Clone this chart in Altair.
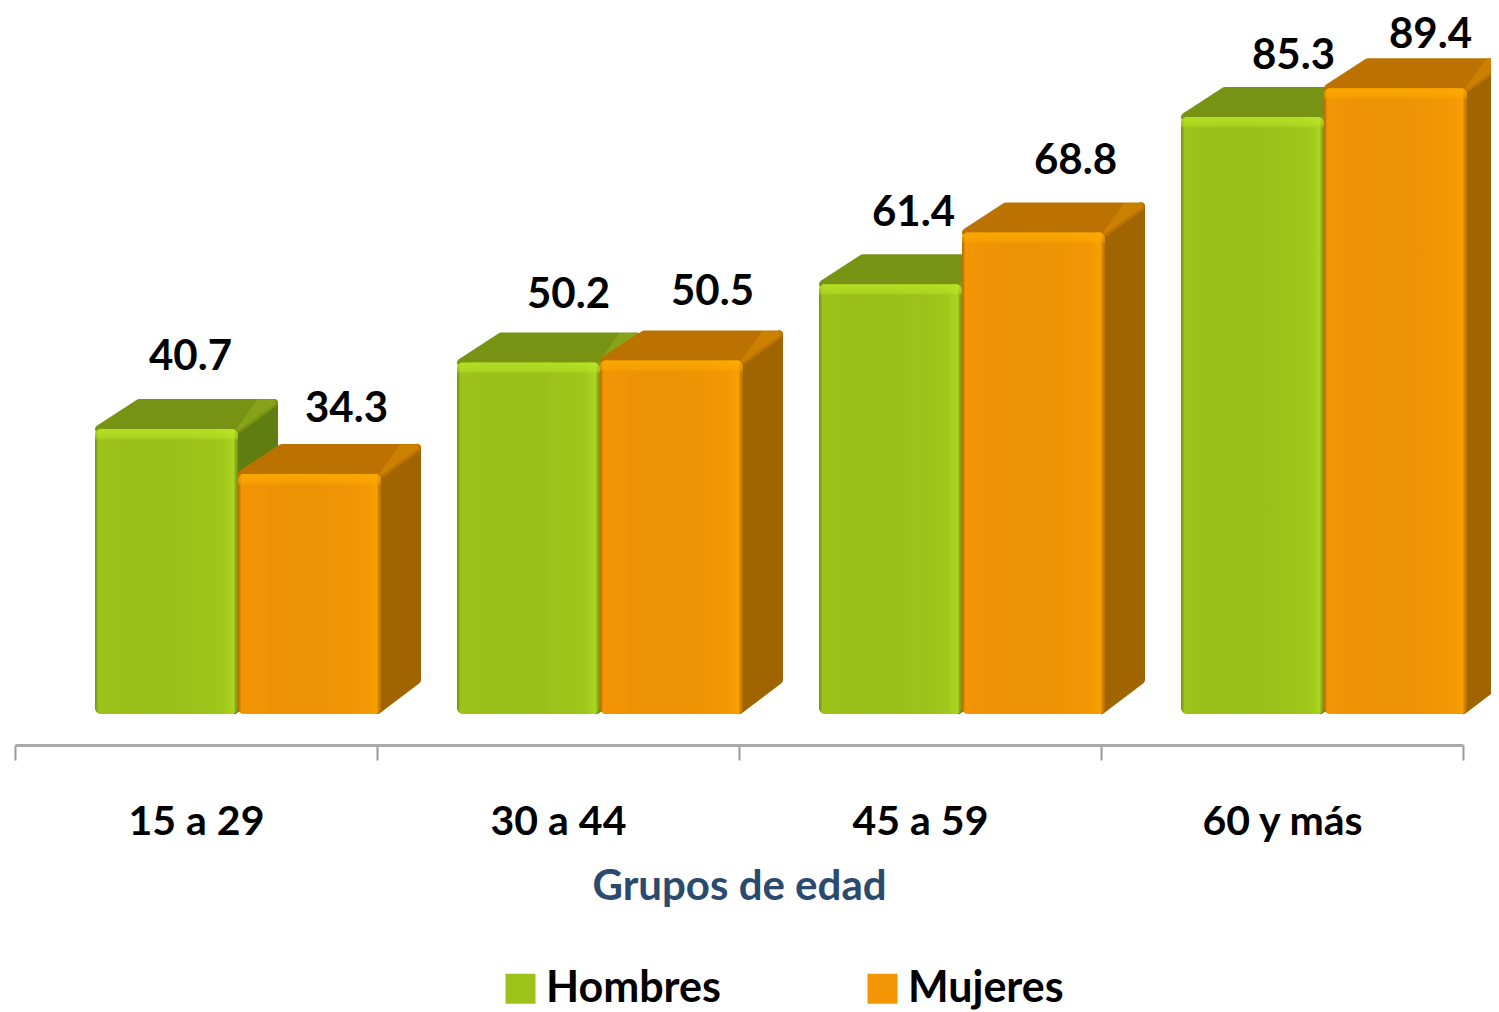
import altair as alt
import pandas as pd

categories = ["15 a 29", "30 a 44", "45 a 59", "60 y más"]
hombres = [40.7, 50.2, 61.4, 85.3]
mujeres = [34.3, 50.5, 68.8, 89.4]
series_names = ["Hombres", "Mujeres"]

# Layout (pixels), kept apart from the values
BAND_PX, UNIT_PX = 362.0, 7.0
DEPTH_X, DEPTH_Y = 40 / BAND_PX, 30 / UNIT_PX
BAR_W = 143 / BAND_PX
START = {"Hombres": 80 / BAND_PX, "Mujeres": 223 / BAND_PX}
INX, INY = 4 / BAND_PX, 4 / UNIT_PX
LABEL_FONT = "Lato"
FRONT = {"Hombres": "#9dc31a", "Mujeres": "#f39504"}
TOPC = {"Hombres": "#789314", "Mujeres": "#bb7200"}
TOPL = {"Hombres": "#88a31a", "Mujeres": "#cc8000"}
SIDE = {"Hombres": "#5f7d10", "Mujeres": "#a06400"}
GLOW = {"Hombres": "190,235,40", "Mujeres": "255,175,0"}
label_dx = {"Hombres": [4, 20, 3, 21], "Mujeres": [17, 21, 22, 15]}
label_dy = {"Hombres": [72, 68, 71, 61], "Mujeres": [65, 69, 71, 53]}

xs = alt.Scale(domain=[0, 4], nice=False, zero=False)
ys = alt.Scale(domain=[-31 / UNIT_PX, 706 / UNIT_PX], nice=False, zero=False)
X = lambda f: alt.X(f, type="quantitative", scale=xs, axis=None)
Y = lambda f: alt.Y(f, type="quantitative", scale=ys, axis=None)

vals = {"Hombres": hombres, "Mujeres": mujeres}
layers = []

# Invisible band layer: it carries the real category axis
axis_df = pd.DataFrame({"cat": categories})
layers.append(
    alt.Chart(axis_df).mark_rule(opacity=0).encode(
        x=alt.X("cat:N", sort=categories, title="Grupos de edad",
                scale=alt.Scale(domain=categories, paddingInner=0, paddingOuter=0),
                axis=alt.Axis(tickBand="extent", labelAngle=0, labelFont=LABEL_FONT,
                              labelFontWeight="bold", labelFontSize=41, labelColor="#000000",
                              labelPadding=42, tickSize=15, tickWidth=2, tickColor="#999999",
                              domainColor="#aaaaaa", domainWidth=3, grid=False,
                              titleFont=LABEL_FONT, titleFontWeight="bold", titleFontSize=42,
                              titleColor="#2a4a6e", titlePadding=24))
    )
)

for name in series_names:
    side_rows, top_rows, top_hi, front_rows, text_rows = [], [], [], [], []
    for i, (c, v) in enumerate(zip(categories, vals[name])):
        xl = i + START[name]
        xr = xl + BAR_W
        side_rows += [dict(k=c, x=xr - 0.01, y=v, y2=INY),
                      dict(k=c, x=xr + DEPTH_X - INX, y=v + DEPTH_Y - INY, y2=DEPTH_Y + INY)]
        top_rows += [dict(k=c, x=xl + INX, y=v, y2=v),
                     dict(k=c, x=xl + DEPTH_X + INX, y=v + DEPTH_Y - INY, y2=v),
                     dict(k=c, x=xr, y=v + DEPTH_Y - INY, y2=v),
                     dict(k=c, x=xr + DEPTH_X - INX, y=v + DEPTH_Y - INY, y2=v + DEPTH_Y - INY)]
        top_hi += [dict(k=c, x=xr, y=v, y2=v),
                   dict(k=c, x=xr + DEPTH_X * 0.5, y=v + DEPTH_Y - INY / 2, y2=v + DEPTH_Y / 2),
                   dict(k=c, x=xr + DEPTH_X - INX, y=v + DEPTH_Y - INY / 2, y2=v + DEPTH_Y - INY)]
        front_rows.append(dict(k=c, s=name, x=xl, x2=xr, y=v, y2=0, ytop=v - 1.6))
        text_rows.append(dict(t=f"{v:.1f}",
                              x=xl + (BAR_W + DEPTH_X) / 2 + label_dx[name][i] / BAND_PX,
                              y=v + label_dy[name][i] / UNIT_PX))

    for rows, col, sw in ((side_rows, SIDE[name], 8), (top_rows, TOPC[name], 8),
                          (top_hi, TOPL[name], 3)):
        layers.append(
            alt.Chart(pd.DataFrame(rows)).mark_area(
                color=col, orient="vertical", stroke=col, strokeWidth=sw, strokeJoin="round"
            ).encode(x=X("x"), y=Y("y"), y2="y2", detail="k:N")
        )

    fdf = pd.DataFrame(front_rows)
    glow = GLOW[name]
    layers.append(
        alt.Chart(fdf).mark_rect(cornerRadius=6).encode(
            x=X("x"), x2="x2", y=Y("y"), y2="y2",
            color=alt.Color("s:N",
                            scale=alt.Scale(domain=series_names,
                                            range=[FRONT[n] for n in series_names]),
                            legend=alt.Legend(title=None, orient="none", direction="horizontal",
                                              columns=2, legendX=484, legendY=959,
                                              symbolType="square", symbolSize=900,
                                              symbolStrokeWidth=0, labelFont=LABEL_FONT,
                                              labelFontWeight="bold", labelFontSize=43,
                                              labelColor="#000000", labelOffset=4,
                                              labelLimit=400, columnPadding=140, rowPadding=0)))
    )
    layers.append(
        alt.Chart(fdf).mark_rect(
            cornerRadius=6,
            fill=alt.Gradient(gradient="linear", x1=0, x2=1, y1=0, y2=0, stops=[
                alt.GradientStop(offset=0, color="rgba(0,0,0,0.28)"),
                alt.GradientStop(offset=0.025, color="rgba(0,0,0,0)"),
                alt.GradientStop(offset=0.9, color=f"rgba({glow},0.10)"),
                alt.GradientStop(offset=0.97, color=f"rgba({glow},0.45)"),
                alt.GradientStop(offset=1, color="rgba(0,0,0,0.22)"),
            ])
        ).encode(x=X("x"), x2="x2", y=Y("y"), y2="y2")
    )
    layers.append(
        alt.Chart(fdf).mark_rect(
            cornerRadiusTopLeft=6, cornerRadiusTopRight=6,
            fill=alt.Gradient(gradient="linear", x1=0, x2=0, y1=0, y2=1, stops=[
                alt.GradientStop(offset=0, color=f"rgba({glow},0.70)"),
                alt.GradientStop(offset=0.75, color=f"rgba({glow},0.45)"),
                alt.GradientStop(offset=1, color=f"rgba({glow},0)"),
            ])
        ).encode(x=X("x"), x2="x2", y=Y("y"), y2="ytop")
    )
    layers.append(
        alt.Chart(pd.DataFrame(text_rows)).mark_text(
            font=LABEL_FONT, fontWeight="bold", fontSize=42, color="#000000", baseline="middle"
        ).encode(x=X("x"), y=Y("y"), text="t:N")
    )

chart = (
    alt.layer(*layers)
    .resolve_scale(x="independent")
    .properties(
        width=1448, height=737,
        padding={"left": 7, "top": 0, "right": 28, "bottom": 267},
        autosize=alt.AutoSizeParams(type="none"),
    )
    .configure_view(stroke=None)
)
chart.save("out.html", embed_options={"renderer": "svg", "actions": False})
